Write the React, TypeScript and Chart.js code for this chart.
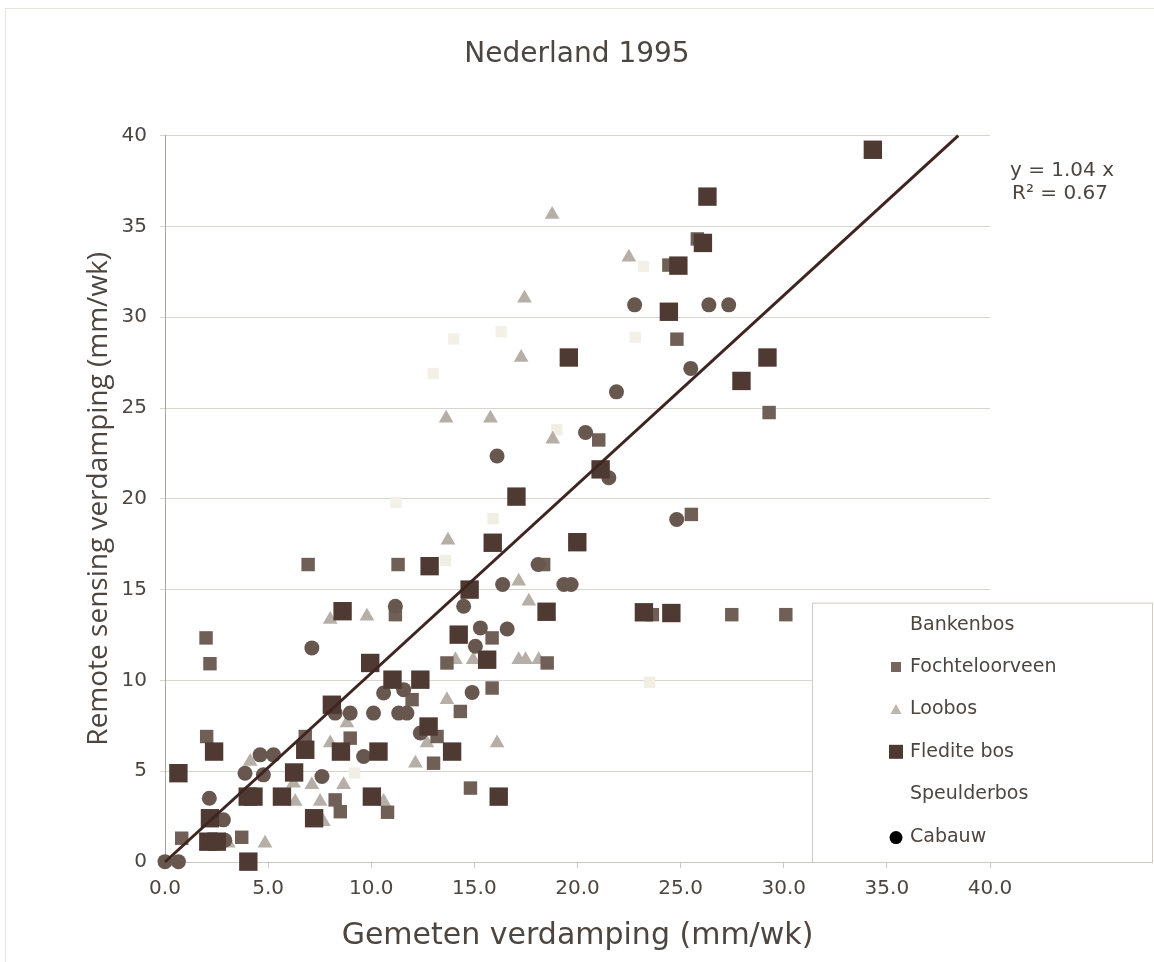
import React, { useEffect, useRef } from 'react';
import { Chart, registerables } from 'chart.js';

Chart.register(...registerables);

// ---------- text ----------
const TITLE = 'Nederland 1995';
const X_TITLE = 'Gemeten verdamping (mm/wk)';
const Y_TITLE = 'Remote sensing verdamping (mm/wk)';
const X_TICK_LABELS = ['0.0', '5.0', '10.0', '15.0', '20.0', '25.0', '30.0', '35.0', '40.0'];
const Y_TICK_LABELS = ['0', '5', '10', '15', '20', '25', '30', '35', '40'];
const SERIES_NAMES = ['Bankenbos', 'Fochteloorveen', 'Loobos', 'Fledite bos', 'Speulderbos', 'Cabauw'];
const EQUATION = 'y = 1.04 x';
const R_SQUARED = 'R\u00B2 = 0.67';

// ---------- data ----------
const bankenbosX = [11.2, 13.0, 16.3, 14.0, 23.2, 22.8];
const bankenbosY = [19.8, 26.9, 29.2, 28.8, 32.8, 28.9];

const fochteloorveenX = [25.81, 24.43, 24.82, 29.29, 21.03, 25.52, 6.94, 11.30, 18.36, 11.17, 1.99, 2.18, 15.86, 13.67, 18.53, 11.98, 15.86, 14.32, 13.19, 13.02, 2.02, 6.80, 8.98, 14.81, 8.25, 8.50, 10.79, 3.72, 0.81, 23.63, 27.48, 30.10];
const fochteloorveenY = [34.31, 32.87, 28.79, 24.75, 23.24, 19.14, 16.38, 16.38, 16.38, 13.62, 12.34, 10.92, 12.34, 10.96, 10.96, 8.94, 9.58, 8.29, 6.91, 5.44, 6.91, 6.91, 6.82, 4.07, 3.42, 2.77, 2.74, 1.36, 1.31, 13.62, 13.62, 13.62];

const loobosX = [18.77, 22.49, 17.43, 17.27, 18.80, 13.63, 15.78, 13.72, 17.15, 17.64, 9.79, 8.01, 14.08, 14.94, 17.15, 17.48, 18.12, 13.67, 8.82, 12.70, 16.10, 12.14, 8.01, 4.13, 6.23, 7.12, 8.66, 6.31, 7.52, 10.60, 3.07, 4.85, 7.68];
const loobosY = [35.65, 33.30, 31.04, 27.78, 23.28, 24.43, 24.43, 17.72, 15.46, 14.36, 13.53, 13.35, 11.14, 11.14, 11.14, 11.14, 11.14, 8.94, 7.65, 6.55, 6.55, 5.44, 6.55, 5.53, 4.34, 4.25, 4.25, 3.33, 3.33, 3.33, 1.03, 1.03, 2.22];

const flediteX = [34.32, 26.30, 26.08, 24.89, 24.43, 19.58, 29.21, 27.95, 17.04, 15.89, 12.83, 14.77, 18.50, 8.61, 14.24, 15.62, 9.95, 11.03, 12.38, 8.09, 12.78, 13.92, 2.38, 6.80, 8.53, 10.35, 0.65, 6.26, 16.18, 4.01, 4.29, 5.67, 10.03, 7.23, 2.18, 2.10, 2.51, 4.04, 21.12, 19.99, 23.22, 24.55];
const flediteY = [39.22, 36.64, 34.09, 32.84, 30.30, 27.78, 27.78, 26.49, 20.12, 17.58, 16.29, 15.00, 13.78, 13.81, 12.52, 11.14, 10.96, 10.04, 10.04, 8.66, 7.46, 6.08, 6.08, 6.18, 6.08, 6.08, 4.89, 4.93, 3.60, 3.60, 3.60, 3.60, 3.60, 2.41, 2.41, 1.12, 1.12, 0.02, 21.62, 17.61, 13.75, 13.71];

const speulderbosX = [23.5, 19.0, 13.6, 9.2, 15.9];
const speulderbosY = [9.9, 23.8, 16.6, 4.9, 18.9];

const cabauwX = [22.77, 26.37, 27.33, 21.89, 25.49, 20.39, 21.52, 16.10, 24.81, 18.09, 16.37, 19.34, 19.69, 14.48, 11.17, 7.12, 15.29, 16.59, 15.05, 10.60, 11.57, 8.25, 8.98, 10.11, 11.33, 11.73, 14.89, 12.38, 9.63, 4.61, 5.26, 3.88, 4.77, 7.61, 2.15, 2.83, 0.0, 0.65, 2.9];
const cabauwY = [30.68, 30.68, 30.68, 25.89, 27.18, 23.65, 21.16, 22.36, 18.86, 16.38, 15.28, 15.28, 15.28, 14.08, 14.08, 11.79, 12.89, 12.83, 11.88, 9.31, 9.49, 8.20, 8.20, 8.20, 8.20, 8.20, 9.34, 7.10, 5.81, 5.90, 5.90, 4.89, 4.80, 4.71, 3.51, 2.32, 0.02, 0.02, 1.2];

// trend line y = 1.04 x, drawn between its two ends
const trendX = [0, 38.46];
const trendY = [0, 40];

// ---------- styles ----------
const TEXT = '#4d4540';
const FONT = "'DejaVu Sans', Verdana, sans-serif";

const toPoints = (xs: number[], ys: number[]) => xs.map((x, i) => ({ x, y: ys[i] }));

const legendMarkers = [
  { style: 'none', color: '#fff', size: 0 },
  { style: 'rect', color: '#75655c', size: 10 },
  { style: 'triangle', color: '#bdb6ae', size: 11 },
  { style: 'rect', color: '#4e3932', size: 14 },
  { style: 'none', color: '#fff', size: 0 },
  { style: 'circle', color: '#000000', size: 13 },
];

const framePlugin = {
  id: 'frame',
  beforeDraw(chart: any) {
    const ctx = chart.ctx;
    ctx.save();
    ctx.fillStyle = '#ffffff';
    ctx.fillRect(0, 0, chart.width, chart.height);
    ctx.strokeStyle = '#e6e2dc';
    ctx.lineWidth = 1;
    ctx.strokeRect(5.5, 8.5, chart.width, chart.height);
    ctx.restore();
  },
};

const annotationPlugin = {
  id: 'equation',
  afterDraw(chart: any) {
    const ctx = chart.ctx;
    const a = chart.chartArea;
    ctx.save();
    ctx.fillStyle = TEXT;
    ctx.font = `20px ${FONT}`;
    ctx.textAlign = 'center';
    ctx.textBaseline = 'middle';
    ctx.fillText(EQUATION, a.right + 72, a.top + 35);
    ctx.fillText(R_SQUARED, a.right + 70, a.top + 58);
    ctx.restore();
  },
};

const boxLegendPlugin = {
  id: 'boxLegend',
  afterDraw(chart: any) {
    const ctx = chart.ctx;
    const a = chart.chartArea;
    const x0 = a.right - 178;
    const y0 = a.top + 467;
    const x1 = chart.width - 2;
    const y1 = a.bottom;
    ctx.save();
    ctx.fillStyle = '#ffffff';
    ctx.fillRect(x0, y0, x1 - x0, y1 - y0);
    ctx.strokeStyle = '#cfcac4';
    ctx.lineWidth = 1;
    ctx.strokeRect(x0 + 0.5, y0 + 0.5, x1 - x0, y1 - y0);
    ctx.font = `19px ${FONT}`;
    ctx.textBaseline = 'middle';
    ctx.textAlign = 'left';
    SERIES_NAMES.forEach((name, i) => {
      const cy = y0 + 22 + i * 42.4;
      const mx = x0 + 84;
      const m = legendMarkers[i];
      ctx.fillStyle = m.color;
      if (m.style === 'rect') {
        ctx.fillRect(mx - m.size / 2, cy - m.size / 2, m.size, m.size);
      } else if (m.style === 'triangle') {
        ctx.beginPath();
        ctx.moveTo(mx, cy - m.size / 2);
        ctx.lineTo(mx + m.size / 2, cy + m.size / 2 - 1);
        ctx.lineTo(mx - m.size / 2, cy + m.size / 2 - 1);
        ctx.closePath();
        ctx.fill();
      } else if (m.style === 'circle') {
        ctx.beginPath();
        ctx.arc(mx, cy + 1, m.size / 2, 0, Math.PI * 2);
        ctx.fill();
      }
      ctx.fillStyle = TEXT;
      ctx.fillText(name, x0 + 98, cy);
    });
    ctx.restore();
  },
};

export default function App() {
  const ref = useRef<HTMLCanvasElement>(null);

  useEffect(() => {
    const canvas = ref.current;
    if (!canvas) return;
    const base = { borderWidth: 0, clip: false as any };
    const chart = new Chart(canvas, {
      type: 'scatter',
      data: {
        datasets: [
          { ...base, label: SERIES_NAMES[0], data: toPoints(bankenbosX, bankenbosY), pointStyle: 'rect', pointRadius: 8, backgroundColor: '#f3f0e7', order: 6 },
          { ...base, label: SERIES_NAMES[1], data: toPoints(fochteloorveenX, fochteloorveenY), pointStyle: 'rect', pointRadius: 9.5, backgroundColor: '#6f5f57', order: 3 },
          { ...base, label: SERIES_NAMES[2], data: toPoints(loobosX, loobosY), pointStyle: 'triangle', pointRadius: 8.5, backgroundColor: '#b6afa7', order: 4 },
          { ...base, label: SERIES_NAMES[3], data: toPoints(flediteX, flediteY), pointStyle: 'rect', pointRadius: 13, backgroundColor: '#4e3a33', order: 1 },
          { ...base, label: SERIES_NAMES[4], data: toPoints(speulderbosX, speulderbosY), pointStyle: 'rect', pointRadius: 8, backgroundColor: '#f1eee3', order: 5 },
          { ...base, label: SERIES_NAMES[5], data: toPoints(cabauwX, cabauwY), pointStyle: 'circle', pointRadius: 7.5, backgroundColor: '#67574f', order: 2 },
          {
            label: 'trend',
            data: toPoints(trendX, trendY),
            showLine: true,
            borderColor: '#3f2521',
            borderWidth: 3,
            pointRadius: 0,
            order: 0,
            clip: false as any,
          },
        ],
      },
      options: {
        responsive: false,
        animation: false,
        devicePixelRatio: 1,
        layout: { padding: { left: 0, right: 0, top: 0, bottom: 0 } },
        plugins: {
          legend: { display: false },
          tooltip: { enabled: false },
          title: {
            display: true,
            text: TITLE,
            color: TEXT,
            font: { family: FONT, size: 28, weight: 'normal' },
            padding: { top: 38, bottom: 64 },
          },
        },
        scales: {
          x: {
            type: 'linear',
            min: 0,
            max: 40,
            afterFit: (s: any) => { s.height = 100; },
            ticks: {
              stepSize: 5,
              maxRotation: 0,
              autoSkip: false,
              padding: 9,
              color: TEXT,
              font: { family: FONT, size: 20 },
              callback: (_v: any, i: number) => X_TICK_LABELS[i],
            },
            grid: { drawOnChartArea: false, tickLength: 6, color: '#c9c5c0' },
            border: { display: true, color: '#c9c5c0' },
            title: {
              display: true,
              text: X_TITLE,
              color: TEXT,
              font: { family: FONT, size: 30 },
              padding: { top: 0, bottom: 8 },
            },
          },
          y: {
            type: 'linear',
            min: 0,
            max: 40,
            afterFit: (s: any) => { s.width = 165; },
            ticks: {
              stepSize: 5,
              autoSkip: false,
              padding: 13,
              color: TEXT,
              font: { family: FONT, size: 20 },
              callback: (_v: any, i: number) => Y_TICK_LABELS[i],
            },
            grid: { color: '#d8d4cf', tickLength: 5 },
            border: { display: true, color: '#aaa5a0' },
            title: {
              display: true,
              text: Y_TITLE,
              color: TEXT,
              font: { family: "'Open Sans', sans-serif", size: 28 },
              padding: { top: 82, bottom: 0 },
            },
          },
          yRight: {
            type: 'linear',
            position: 'right',
            min: 0,
            max: 40,
            afterFit: (s: any) => { s.width = 164; },
            ticks: { display: false },
            grid: { display: false, drawOnChartArea: false },
            border: { display: false },
            title: { display: false },
          },
        },
      },
      plugins: [framePlugin, boxLegendPlugin, annotationPlugin],
    } as any);
    return () => chart.destroy();
  }, []);

  return (
    <div style={{ position: 'fixed', left: 0, top: 0, width: 1154, height: 962, background: '#ffffff' }}>
      <canvas ref={ref} width={1154} height={962} style={{ display: 'block' }} />
    </div>
  );
}
